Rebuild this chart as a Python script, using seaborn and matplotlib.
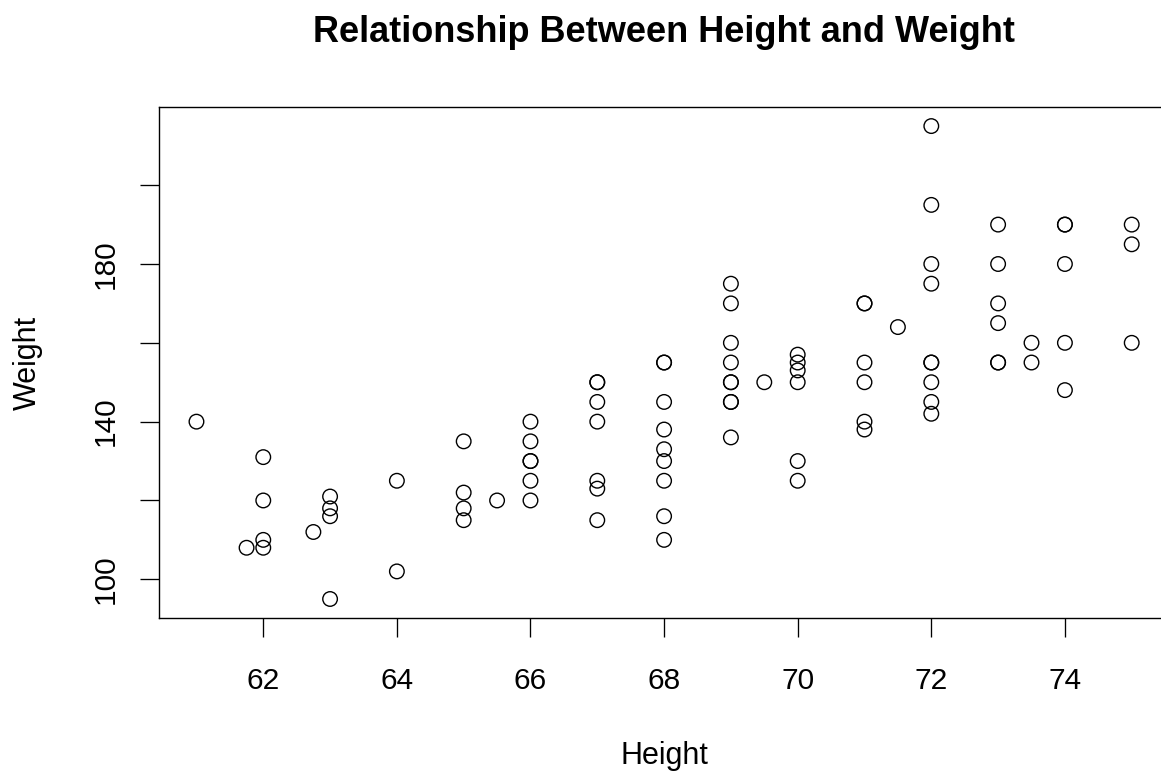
import matplotlib
matplotlib.use("Agg")
import matplotlib.pyplot as plt
import seaborn as sns
import pandas as pd

# heights (inches) and weights (lb)
height = [61, 61.75, 62, 62, 62, 62, 62.75,
          63, 63, 63, 63, 64, 64,
          65, 65, 65, 65, 65.5,
          66, 66, 66, 66, 66, 66,
          67, 67, 67, 67, 67, 67, 67,
          68, 68, 68, 68, 68, 68, 68, 68, 68,
          69, 69, 69, 69, 69, 69, 69, 69, 69, 69.5,
          70, 70, 70, 70, 70, 70,
          71, 71, 71, 71, 71, 71, 71.5,
          72, 72, 72, 72, 72, 72, 72, 72, 72,
          73, 73, 73, 73, 73, 73, 73.5, 73.5,
          74, 74, 74, 74, 74,
          75, 75, 75]
weight = [140, 108, 131, 120, 110, 108, 112,
          121, 118, 116, 95, 125, 102,
          135, 122, 118, 115, 120,
          140, 135, 130, 130, 125, 120,
          150, 150, 145, 140, 125, 123, 115,
          155, 155, 145, 138, 133, 130, 125, 116, 110,
          175, 170, 160, 155, 150, 150, 145, 145, 136, 150,
          157, 155, 153, 150, 130, 125,
          170, 170, 155, 150, 140, 138, 164,
          215, 195, 180, 175, 155, 150, 145, 142, 155,
          190, 180, 170, 165, 155, 155, 160, 155,
          190, 190, 180, 160, 148,
          190, 185, 160]

x_ticks = [62, 64, 66, 68, 70, 72, 74]
y_ticks = [100, 120, 140, 160, 180, 200]
y_tick_labels = ["100", "", "140", "", "180", ""]

df = pd.DataFrame({"Height": height, "Weight": weight})

sns.set_style("white", rc={"text.color": "black", "axes.labelcolor": "black",
                           "xtick.color": "black", "ytick.color": "black",
                           "axes.edgecolor": "black"})
plt.rcParams["font.family"] = ["Liberation Sans", "DejaVu Sans"]

fig = plt.figure(figsize=(11.61, 7.72), dpi=100)
ax = fig.add_axes([0.137, 0.1996, 0.870, 0.6616])

sns.scatterplot(data=df, x="Height", y="Weight", ax=ax, s=110,
                facecolor="none", edgecolor="black", linewidth=1.0, marker="o")

ax.set_xlim(60.44, 75.56)
ax.set_ylim(90.2, 219.8)
ax.set_xticks(x_ticks)
ax.set_yticks(y_ticks)
ax.set_yticklabels(y_tick_labels, rotation=90, va="center")
ax.tick_params(axis="both", direction="out", length=14, width=0.95,
               color="black", labelsize=21.5, left=True, bottom=True)
ax.tick_params(axis="x", pad=21)
ax.tick_params(axis="y", pad=14.6)

for sp in ax.spines.values():
    sp.set_linewidth(1.0)

ax.set_xlabel("Height", fontsize=22, va="baseline")
ax.xaxis.set_label_coords(0.5, -0.286)
ax.set_ylabel("Weight", fontsize=22, va="baseline")
ax.yaxis.set_label_coords(-0.1219, 0.5)
fig.text(0.5719, 0.946, "Relationship Between Height and Weight",
         ha="center", va="baseline", fontsize=26, fontweight="bold")

fig.savefig("out.png", dpi=100)
